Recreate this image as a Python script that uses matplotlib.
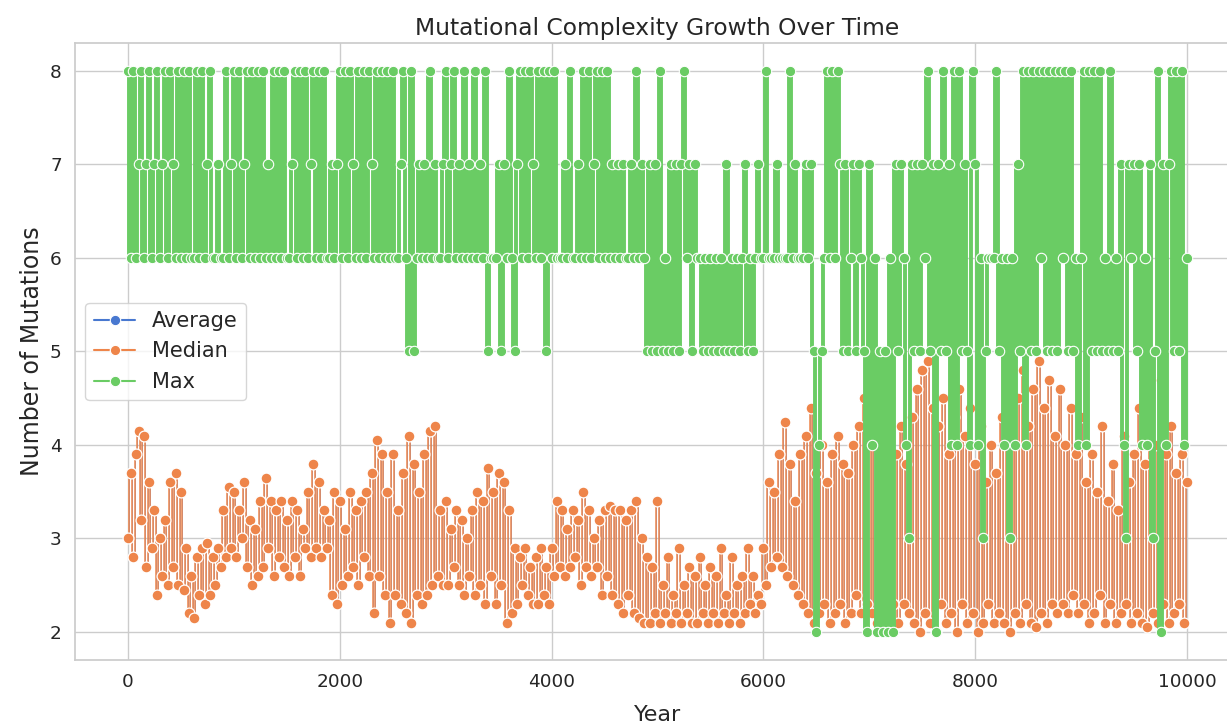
import numpy as np
import matplotlib
matplotlib.use("Agg")
import matplotlib.pyplot as plt
import seaborn as sns

# one sample every 25 years
years = np.arange(0, 10001, 25)

# Max mutations, one digit per sample, one string per 1000 years (+ final year)
max_blocks = [
    "8686786786" "7867868768" "6868668686" "7866766867",   # 0-975
    "8686786868" "6867686868" "6678686867" "8686866767",   # 1000-1975
    "8686876868" "6876868686" "8667865856" "7676867667",   # 2000-2975
    "8678676867" "6867685666" "7576865786" "8687686858",   # 3000-3975
    "6866676866" "7686867868" "6867676766" "7686765757",   # 4000-4975
    "5856575757" "8675766565" "6565657565" "6567565676",   # 5000-5975
    "6866676666" "8676667675" "2456868687" "5756757652",   # 6000-6975
    "7462525262" "7576437575" "7685727585" "7484857548",   # 7000-7975
    "7463566685" "6463647584" "8585868585" "8586858564",   # 8000-8975
    "6848585856" "5856574376" "7574647358" "2747858584",   # 9000-9975
    "6",                                                   # 10000
]
max_mut = [int(c) for c in "".join(max_blocks)]

median_mut = [
    # 0-975
    3.0, 3.7, 2.8, 3.9, 4.15, 3.2, 4.1, 2.7, 3.6, 2.9,
    3.3, 2.4, 3.0, 2.6, 3.2, 2.5, 3.6, 2.7, 3.7, 2.5,
    3.5, 2.45, 2.9, 2.2, 2.6, 2.15, 2.8, 2.4, 2.9, 2.3,
    2.95, 2.4, 2.8, 2.5, 2.9, 2.7, 3.3, 2.8, 3.55, 2.9,
    # 1000-1975
    3.5, 2.8, 3.3, 3.0, 3.6, 2.7, 3.2, 2.5, 3.1, 2.6,
    3.4, 2.7, 3.65, 2.9, 3.4, 2.6, 3.3, 2.8, 3.4, 2.7,
    3.2, 2.6, 3.4, 2.8, 3.3, 2.6, 3.1, 2.9, 3.5, 2.8,
    3.8, 2.9, 3.6, 2.8, 3.3, 2.9, 3.2, 2.4, 3.5, 2.3,
    # 2000-2975
    3.4, 2.5, 3.1, 2.6, 3.5, 2.7, 3.3, 2.5, 3.4, 2.8,
    3.5, 2.6, 3.7, 2.2, 4.05, 2.6, 3.9, 2.4, 3.5, 2.1,
    3.9, 2.4, 3.3, 2.3, 3.7, 2.2, 4.1, 2.1, 3.8, 2.4,
    3.5, 2.3, 3.9, 2.4, 4.15, 2.5, 4.2, 2.6, 3.3, 2.5,
    # 3000-3975
    3.4, 2.5, 3.1, 2.7, 3.3, 2.5, 3.2, 2.4, 3.0, 2.6,
    3.3, 2.4, 3.5, 2.5, 3.4, 2.3, 3.75, 2.6, 3.5, 2.3,
    3.7, 2.5, 3.6, 2.1, 3.3, 2.2, 2.9, 2.3, 2.8, 2.5,
    2.9, 2.4, 2.7, 2.3, 2.8, 2.3, 2.9, 2.4, 2.7, 2.3,
    # 4000-4975
    2.9, 2.6, 3.4, 2.7, 3.3, 2.6, 3.1, 2.7, 3.3, 2.8,
    3.2, 2.5, 3.5, 2.7, 3.3, 2.6, 3.0, 2.7, 3.2, 2.4,
    3.3, 2.6, 3.35, 2.4, 3.3, 2.3, 3.3, 2.2, 3.2, 2.4,
    3.3, 2.2, 3.4, 2.15, 3.0, 2.1, 2.8, 2.1, 2.7, 2.2,
    # 5000-5975
    3.4, 2.1, 2.5, 2.2, 2.8, 2.1, 2.4, 2.2, 2.9, 2.1,
    2.5, 2.2, 2.7, 2.1, 2.6, 2.1, 2.8, 2.2, 2.5, 2.1,
    2.7, 2.2, 2.6, 2.1, 2.9, 2.2, 2.4, 2.1, 2.8, 2.2,
    2.5, 2.1, 2.6, 2.2, 2.9, 2.3, 2.6, 2.2, 2.4, 2.3,
    # 6000-6975
    2.9, 2.5, 3.6, 2.7, 3.5, 2.8, 3.9, 2.7, 4.25, 2.6,
    3.8, 2.5, 3.4, 2.4, 3.9, 2.3, 4.1, 2.2, 4.4, 2.1,
    3.7, 2.2, 4.0, 2.3, 3.6, 2.1, 3.9, 2.2, 4.1, 2.3,
    3.8, 2.1, 3.7, 2.2, 4.0, 2.4, 4.2, 2.2, 4.5, 2.3,
    # 7000-7975
    4.6, 2.2, 4.3, 2.1, 4.7, 2.3, 4.0, 2.2, 4.5, 2.3,
    3.9, 2.1, 4.2, 2.3, 3.8, 2.2, 4.3, 2.1, 4.6, 2.0,
    4.8, 2.2, 4.9, 2.1, 4.4, 2.0, 4.2, 2.3, 4.5, 2.1,
    3.9, 2.2, 4.3, 2.0, 4.6, 2.3, 4.1, 2.1, 4.4, 2.2,
    # 8000-8975
    3.8, 2.0, 4.2, 2.1, 3.6, 2.3, 4.0, 2.1, 3.7, 2.2,
    4.3, 2.1, 4.7, 2.0, 4.9, 2.2, 4.5, 2.1, 4.8, 2.3,
    4.2, 2.1, 4.6, 2.05, 4.9, 2.2, 4.4, 2.1, 4.7, 2.3,
    4.1, 2.2, 4.6, 2.3, 4.0, 2.2, 4.4, 2.4, 3.9, 2.2,
    # 9000-10000
    4.3, 2.3, 3.6, 2.1, 3.9, 2.2, 3.5, 2.4, 4.2, 2.1,
    3.4, 2.3, 3.8, 2.1, 3.3, 2.2, 4.1, 2.3, 3.6, 2.1,
    3.9, 2.2, 4.4, 2.1, 3.8, 2.05, 4.6, 2.2, 4.0, 2.1,
    4.7, 2.3, 3.9, 2.1, 4.2, 2.2, 3.7, 2.3, 3.9, 2.1,
    3.6,
]

# the average line is completely covered by the median in the reference
average_mut = list(median_mut)

sns.set_theme(style="whitegrid", palette="muted")
pal = sns.color_palette("muted")

fig = plt.figure(figsize=(12.27, 7.26), dpi=100)
ax = fig.add_axes([0.0611, 0.0909, 0.9495, 0.850])

# dense yearly data in the original: jumps look vertical, so draw steps
style = dict(marker="o", mec="w", drawstyle="steps-mid")
ax.plot(years, average_mut, color=pal[0], lw=0.5, ms=7.0, mew=0.8, label="Average", **style)
ax.plot(years, median_mut, color=pal[1], lw=1.1, ms=7.8, mew=0.9, label="Median", **style)
ax.plot(years, max_mut, color=pal[2], lw=2.8, ms=7.5, mew=0.8, label="Max", **style)

ax.set_xlim(-500, 10500)
ax.set_ylim(1.7, 8.3)
ax.set_title("Mutational Complexity Growth Over Time", fontsize=16.8)
ax.set_xlabel("Year", fontsize=16, labelpad=10)
ax.set_ylabel("Number of Mutations", fontsize=17)
ax.tick_params(labelsize=13.3)
leg = ax.legend(loc="center left", fontsize=15)
for h in leg.legend_handles:
    h.set_linewidth(1.5)
    h.set_markersize(7.5)
    h.set_drawstyle("default")

fig.savefig("out.png", dpi=100)
